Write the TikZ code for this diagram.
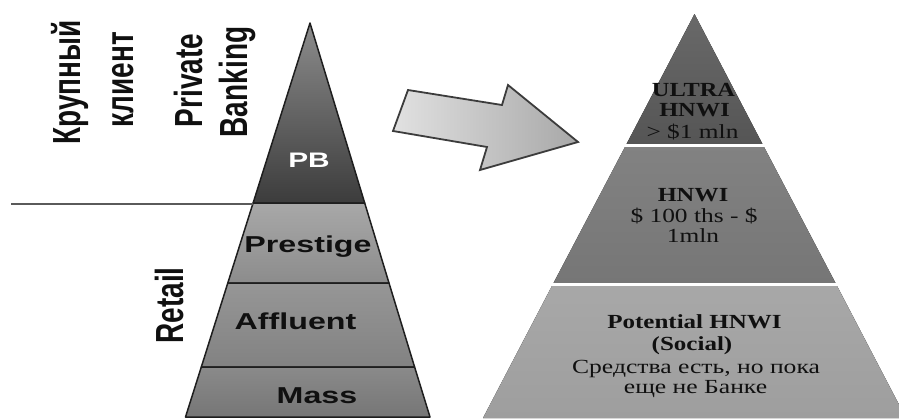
\documentclass[tikz,border=0pt]{standalone}
\usepackage{fontspec}
\newfontfamily\arialf{Liberation Sans}
\newfontfamily\timesf{Liberation Serif}
\definecolor{ink}{HTML}{101010}
\definecolor{edge}{HTML}{1E1E1E}
\begin{document}
\begin{tikzpicture}[x=1pt,y=-1pt,
  lbl/.style={font=\arialf\bfseries\fontsize{23}{26}\selectfont, text=ink, inner sep=0pt, anchor=base},
  vlbl/.style={font=\arialf\bfseries\fontsize{28}{30}\selectfont, text=ink, inner sep=0pt, anchor=base, rotate=90},
  rb/.style={font=\timesf\bfseries\fontsize{20}{22}\selectfont, text=ink, inner sep=0pt, anchor=base},
  rr/.style={font=\timesf\fontsize{20}{22}\selectfont, text=ink, inner sep=0pt, anchor=base},
  tier/.style={draw=edge, line width=1.5pt, line join=round},
  rtier/.style={draw=none}
]
\useasboundingbox (0,0) rectangle (899,418);
\begin{scope}
\clip (0,0) rectangle (899,418);
% right pyramid
\fill[rtier, top color={rgb,255:red,105;green,105;blue,105}, bottom color={rgb,255:red,85;green,85;blue,85}]
  (694.5,14) -- (763,145) -- (626,145) -- cycle;
\fill[rtier, top color={rgb,255:red,130;green,130;blue,130}, bottom color={rgb,255:red,118;green,118;blue,118}]
  (626,145) -- (763,145) -- (835.5,283) -- (553.5,283) -- cycle;
\fill[rtier, top color={rgb,255:red,168;green,168;blue,168}, bottom color={rgb,255:red,158;green,158;blue,158}]
  (553.5,283) -- (835.5,283) -- (906,418) -- (483,418) -- cycle;
\draw[white, line width=3pt] (600,145) -- (790,145);
\draw[white, line width=3pt] (530,284) -- (860,284);
% left pyramid
\filldraw[tier, top color={rgb,255:red,140;green,140;blue,140}, bottom color={rgb,255:red,60;green,60;blue,60}]
  (310,23) -- (364.7,203) -- (253.1,203) -- cycle;
\filldraw[tier, top color={rgb,255:red,168;green,168;blue,168}, bottom color={rgb,255:red,140;green,140;blue,140}]
  (253.1,203) -- (364.7,203) -- (389,283) -- (227.8,283) -- cycle;
\filldraw[tier, top color={rgb,255:red,150;green,150;blue,150}, bottom color={rgb,255:red,130;green,130;blue,130}]
  (227.8,283) -- (389,283) -- (414.6,367) -- (201.3,367) -- cycle;
\filldraw[tier, top color={rgb,255:red,138;green,138;blue,138}, bottom color={rgb,255:red,118;green,118;blue,118}]
  (201.3,367) -- (414.6,367) -- (430,417) -- (185.5,417) -- cycle;
\draw[line width=2pt, color={rgb,255:red,90;green,90;blue,90}] (11,204) -- (253,204);
% arrow
\filldraw[draw={rgb,255:red,60;green,60;blue,60}, line width=1.8pt, line join=miter,
  left color={rgb,255:red,225;green,225;blue,225}, right color={rgb,255:red,168;green,168;blue,168}]
  (408,90) -- (502,105) -- (508,85) -- (578,142) -- (480,170) -- (487,147) -- (393,131) -- cycle;
\end{scope}
% left labels
\node[lbl, text=white, font=\arialf\bfseries\fontsize{21}{24}\selectfont] (pb) at (309,167) {\scalebox{1.42}[1]{PB}};
\node[lbl] (prestige) at (308,252) {\scalebox{1.4}[1]{Prestige}};
\node[lbl] (affluent) at (295.5,329) {\scalebox{1.4}[1]{Affluent}};
\node[lbl] (mass) at (317,403) {\scalebox{1.4}[1]{Mass}};
\node[vlbl] (krup) at (80,82.5) {\scalebox{1}[1.4]{Крупный}};
\node[vlbl] (klient) at (133,80) {\scalebox{1}[1.4]{клиент}};
\node[vlbl] (private) at (202,80.5) {\scalebox{1}[1.4]{Private}};
\node[vlbl] (banking) at (247,82) {\scalebox{1}[1.4]{Banking}};
\node[vlbl] (retail) at (183,305.5) {\scalebox{1}[1.4]{Retail}};
% right labels
\node[rb] (u1) at (693.5,96) {\scalebox{1.22}[1]{ULTRA}};
\node[rb] (u2) at (694.5,116) {\scalebox{1.22}[1]{HNWI}};
\node[rr] (u3) at (692.5,138) {\scalebox{1.27}[1]{> \$1 mln}};
\node[rb] (h1) at (693,201) {\scalebox{1.22}[1]{HNWI}};
\node[rr] (h2) at (694,222) {\scalebox{1.27}[1]{\$ 100 ths - \$}};
\node[rr] (h3) at (693,242) {\scalebox{1.27}[1]{1mln}};
\node[rb] (p1) at (694.5,328) {\scalebox{1.25}[1]{Potential HNWI}};
\node[rb] (p2) at (692,350) {\scalebox{1.25}[1]{(Social)}};
\node[rr] (p3) at (696,373) {\scalebox{1.28}[1]{Средства есть, но пока}};
\node[rr] (p4) at (695.5,393) {\scalebox{1.28}[1]{еще не Банке}};
\end{tikzpicture}
\end{document}
